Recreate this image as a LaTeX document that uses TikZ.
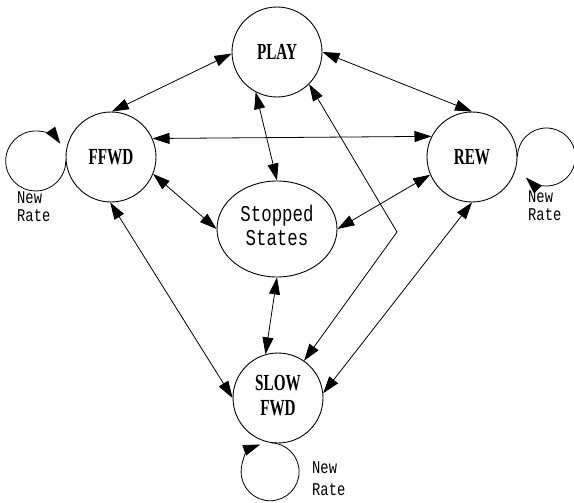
\documentclass[tikz,border=0pt]{standalone}
\usepackage{fontspec}
\setmainfont{Liberation Serif}
\newfontfamily\monofnt{Liberation Mono}
\usetikzlibrary{arrows.meta,shapes.geometric}
\newcommand{\statelbl}[1]{\scalebox{0.66}[1]{\fontsize{23}{25}\selectfont\bfseries #1}}
\newcommand{\ratelbl}[1]{\scalebox{1}[1.3]{\fontsize{13.8}{#1}\monofnt\begin{tabular}{@{}l@{}}New\\Rate\end{tabular}}}
\tikzset{
  statenode/.style={draw, circle, line width=0.9pt, minimum size=90pt, inner sep=0pt},
  stopnode/.style={draw, ellipse, line width=0.9pt, minimum width=120pt, minimum height=96pt, inner sep=0pt},
  dbl/.style={line width=0.8pt, {Triangle[length=17pt,width=11pt]}-{Triangle[length=17pt,width=11pt]}},
  loopline/.style={line width=0.8pt, -{Triangle[length=17pt,width=11pt]}},
  ratenode/.style={anchor=west, inner sep=0pt}
}
\begin{document}
\begin{tikzpicture}[x=1pt,y=1pt]
\useasboundingbox (0,0) rectangle (574,-503);
\node[statenode] (play) at (277,-52) {\statelbl{PLAY}};
\node[statenode] (ffwd) at (111,-157) {\statelbl{FFWD}};
\node[statenode] (rew) at (472,-157) {\statelbl{REW}};
\node[stopnode] (stop) at (277,-229) {\scalebox{1}[1.3]{\fontsize{17.4}{18.5}\monofnt\begin{tabular}{@{}c@{}}Stopped\\States\end{tabular}}};
\node[statenode] (slow) at (278,-398) {\statelbl{\begin{tabular}{@{}c@{}}SLOW\\FWD\end{tabular}}};
\coordinate (bend) at (397,-232);

\draw[dbl] (play.182) -- (ffwd.89);
\draw[dbl] (play.0) -- (rew.90);
\draw[dbl] (ffwd.24) -- (rew.153);
\draw[dbl] (play.242) -- (stop.north);
\draw[dbl] (play.315) -- (bend) -- (slow.55);
\draw[dbl] (ffwd.338) -- (stop.west);
\draw[dbl] (rew.203) -- (stop.east);
\draw[dbl] (ffwd.269) -- (slow.180);
\draw[dbl] (stop.south) -- (slow.106);
\draw[dbl] (rew.270) -- (slow.6);

\draw[loopline] (ffwd.185) arc[start angle=0, end angle=-325, radius=30];
\draw[loopline] (rew.0) arc[start angle=180, end angle=-135, radius=29];
\draw[loopline] (slow.260) arc[start angle=90, end angle=-250, radius=29];

\node[ratenode] (r1) at (17,-209) {\ratelbl{14}};
\node[ratenode] (r2) at (528,-208) {\ratelbl{14}};
\node[ratenode] (r3) at (312,-480) {\ratelbl{17}};
\end{tikzpicture}
\end{document}
